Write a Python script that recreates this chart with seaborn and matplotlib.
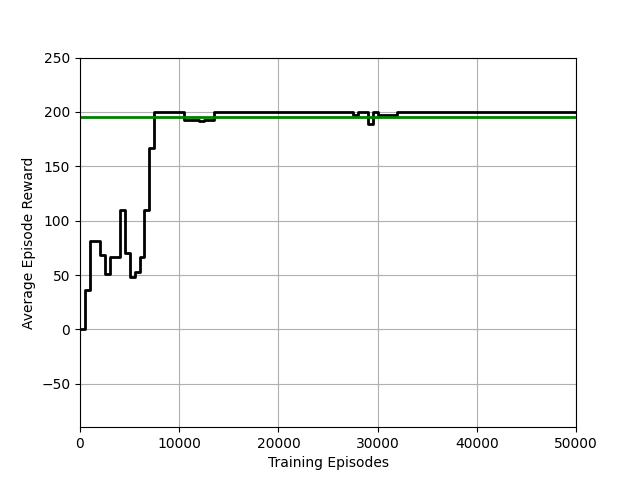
import matplotlib
matplotlib.use('Agg')
import matplotlib.pyplot as plt
import seaborn as sns
import pandas as pd

# step change points (episode where the running average changes) and value
episodes = [0, 500, 1000, 2000, 2500, 3000, 4000, 4500, 5000, 5500, 6000,
            6500, 7000, 7500, 10500, 12000, 12500, 13500, 17500, 18000,
            27500, 28000, 29000, 29500, 30000, 32000, 50000]
rewards = [0, 36, 81, 68, 51, 67, 110, 70, 48, 53, 67,
           110, 167, 200, 193, 192, 193, 200, 199.5, 200,
           197, 200, 189, 200, 197, 200, 200]
solved_threshold = 195

df = pd.DataFrame({'episode': episodes, 'reward': rewards})

fig = plt.figure(figsize=(6.4, 4.8), dpi=100)
ax = plt.gca()
sns.lineplot(data=df, x='episode', y='reward', drawstyle='steps-post',
             color='k', linewidth=2, ax=ax)
ax.axhline(solved_threshold, color='g', linewidth=2)

ax.set_xlim(0, 50000)
ax.set_ylim(-90, 250)
ax.set_xlabel('Training Episodes')
ax.set_ylabel('Average Episode Reward')
ax.grid(True)

plt.savefig('out.png')
plt.close(fig)
